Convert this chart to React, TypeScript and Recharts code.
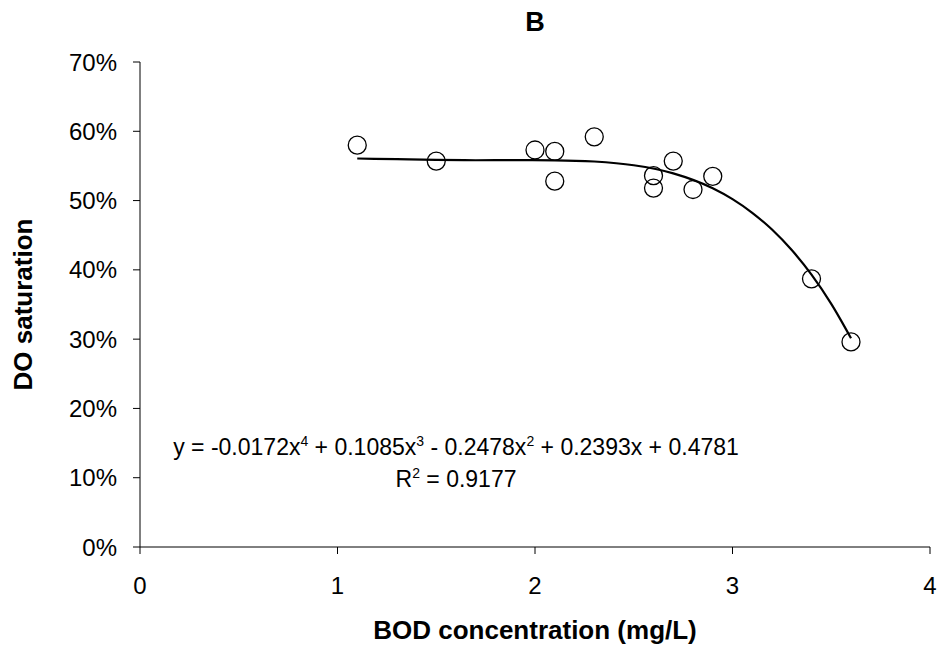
import React from 'react';
import { ScatterChart, Scatter, XAxis, YAxis } from 'recharts';

// measured points
const bodValues = [1.1, 1.5, 2.0, 2.1, 2.1, 2.3, 2.6, 2.6, 2.7, 2.8, 2.9, 3.4, 3.6];
const doValues = [0.58, 0.557, 0.573, 0.571, 0.528, 0.592, 0.536, 0.518, 0.557, 0.516, 0.535, 0.387, 0.296];

// polynomial trendline
const trendX = [1.1, 1.3, 1.5, 1.7, 1.9, 2.1, 2.3, 2.5, 2.7, 2.9, 3.0, 3.1, 3.2, 3.3, 3.4, 3.5, 3.6];
const trendY = [0.5607, 0.5597, 0.5586, 0.5582, 0.5583, 0.5581, 0.5564, 0.551, 0.5393, 0.5178, 0.5021, 0.4824, 0.4582, 0.4286, 0.3931, 0.351, 0.3014];

const xTicks = [0, 1, 2, 3, 4];
const yTicks = [0, 0.1, 0.2, 0.3, 0.4, 0.5, 0.6, 0.7];

const points = bodValues.map((x, i) => ({ x, y: doValues[i] }));
const trend = trendX.map((x, i) => ({ x, y: trendY[i] }));

const font = '"Liberation Sans", Arial, sans-serif';
const supStyle: React.CSSProperties = { fontSize: 14, verticalAlign: 'super', lineHeight: 0 };

const Circle = (props: any) => (
  <circle cx={props.cx} cy={props.cy} r={9} fill="none" stroke="#000" strokeWidth={1.3} />
);

export default function App() {
  return (
    <div style={{ position: 'absolute', left: 0, top: 0, width: 940, height: 650, fontFamily: font, background: '#fff' }}>
      <div style={{ position: 'absolute', left: 0, width: 1070, top: 7, lineHeight: '31px', textAlign: 'center', fontWeight: 'bold', fontSize: 27 }}>
        B
      </div>
      <ScatterChart width={940} height={650} margin={{ top: 62, right: 10, bottom: 0, left: 0 }}>
        <XAxis
          type="number"
          dataKey="x"
          domain={[0, 4]}
          ticks={xTicks}
          height={103}
          axisLine={{ stroke: '#000' }}
          tickLine={{ stroke: '#000' }}
          tickSize={7}
          tickMargin={23}
          tick={{ fill: '#000', fontSize: 24, fontFamily: font }}
          label={{
            content: ({ viewBox }: any) => (
              <text
                x={viewBox.x + viewBox.width / 2}
                y={639}
                textAnchor="middle"
                fontFamily={font}
                fontWeight="bold"
                fontSize={26}
                fill="#000"
              >
                BOD concentration (mg/L)
              </text>
            ),
          }}
        />
        <YAxis
          type="number"
          dataKey="y"
          domain={[0, 0.7]}
          ticks={yTicks}
          width={140}
          axisLine={{ stroke: '#000' }}
          tickLine={{ stroke: '#000' }}
          tickSize={7}
          tickMargin={16}
          tickFormatter={(v: number) => `${Math.round(v * 100)}%`}
          tick={{ fill: '#000', fontSize: 24, fontFamily: font }}
          label={{
            content: ({ viewBox }: any) => {
              const cx = 32;
              const cy = viewBox.y + viewBox.height / 2;
              return (
                <text
                  x={cx}
                  y={cy}
                  transform={`rotate(-90, ${cx}, ${cy})`}
                  textAnchor="middle"
                  fontFamily={font}
                  fontWeight="bold"
                  fontSize={26}
                  fill="#000"
                >
                  DO saturation
                </text>
              );
            },
          }}
        />
        <Scatter
          data={trend}
          line={{ stroke: '#000', strokeWidth: 2.2 }}
          lineJointType="monotoneX"
          shape={() => null}
          isAnimationActive={false}
        />
        <Scatter data={points} shape={Circle} isAnimationActive={false} />
      </ScatterChart>
      <div style={{ position: 'absolute', left: 56, width: 800, top: 434, lineHeight: '26px', textAlign: 'center', fontSize: 23, whiteSpace: 'nowrap', color: '#000' }}>
        y = -0.0172x<sup style={supStyle}>4</sup> + 0.1085x<sup style={supStyle}>3</sup> - 0.2478x<sup style={supStyle}>2</sup> + 0.2393x + 0.4781
      </div>
      <div style={{ position: 'absolute', left: 56, width: 800, top: 466, lineHeight: '26px', textAlign: 'center', fontSize: 23, whiteSpace: 'nowrap', color: '#000' }}>
        R<sup style={supStyle}>2</sup> = 0.9177
      </div>
    </div>
  );
}
